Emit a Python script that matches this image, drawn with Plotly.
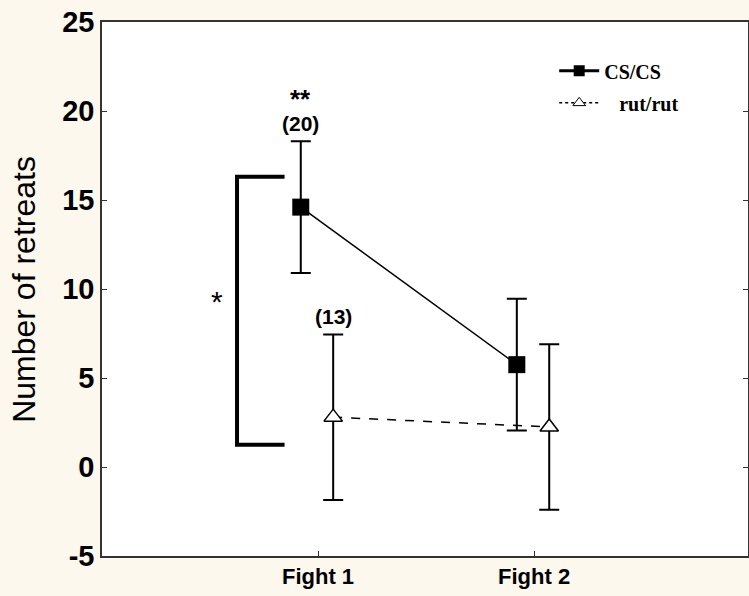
import plotly.graph_objects as go

# ---- data ----
categories = ["Fight 1", "Fight 2"]
cat_pos = [1, 2]
cs_mean = [14.6, 5.75]
cs_err = [3.7, 3.7]
rut_mean = [2.8, 2.25]
rut_err = [4.65, 4.65]
offset_cs = -0.08
offset_rut = 0.07
y_ticks = [-5, 0, 5, 10, 15, 20, 25]
y_ticktext = ["-5", "0", "5", "10", "15", "20", "25"]
n_labels = ["(20)", "(13)"]
bracket_y = [16.3, 1.25]

cs_x = [p + offset_cs for p in cat_pos]
rut_x = [p + offset_rut for p in cat_pos]

FONT = "Arial, Liberation Sans, sans-serif"
SERIF = "Times New Roman, Liberation Serif, serif"
BG = "#FCF8EE"

fig = go.Figure()

fig.add_trace(go.Scatter(
    x=rut_x, y=rut_mean, mode="lines+markers", showlegend=False,
    line=dict(color="black", width=1.5, dash="dash"),
    marker=dict(symbol="triangle-up", size=16, color="white",
                line=dict(color="black", width=1.5)),
    error_y=dict(type="data", array=rut_err, color="black", thickness=2, width=10),
))
fig.add_trace(go.Scatter(
    x=cs_x, y=cs_mean, mode="lines+markers", showlegend=False,
    line=dict(color="black", width=1.5),
    marker=dict(symbol="square", size=17, color="black"),
    error_y=dict(type="data", array=cs_err, color="black", thickness=2, width=10),
))
# legend entries
fig.add_trace(go.Scatter(
    x=[None], y=[None], mode="lines+markers", name="CS/CS", legendgroup="a",
    line=dict(color="black", width=3),
    marker=dict(symbol="square", size=11, color="black"),
))
fig.add_trace(go.Scatter(
    x=[None], y=[None], mode="lines+markers", name="\u00a0\u00a0\u00a0rut/rut", legendgroup="b",
    line=dict(color="black", width=1.5, dash="dot"),
    marker=dict(symbol="triangle-up", size=11, color="white",
                line=dict(color="black", width=1)),
))

# significance bracket
bx0, bx1 = 0.625, 0.845
fig.add_shape(type="path",
              path=f"M {bx1},{bracket_y[0]} L {bx0},{bracket_y[0]} L {bx0},{bracket_y[1]} L {bx1},{bracket_y[1]}",
              line=dict(color="black", width=4), xref="x", yref="y")
fig.add_annotation(x=0.53, y=9.3, text="*", showarrow=False,
                   font=dict(family=FONT, size=30, color="black"))

# N labels and stars
fig.add_annotation(x=cs_x[0], y=cs_mean[0] + cs_err[0], yshift=18, text=f"<b>{n_labels[0]}</b>",
                   showarrow=False, font=dict(family=FONT, size=21, color="black"))
fig.add_annotation(x=cs_x[0], y=cs_mean[0] + cs_err[0], yshift=42, text="<b>**</b>",
                   showarrow=False, font=dict(family=FONT, size=26, color="black"))
fig.add_annotation(x=rut_x[0], y=rut_mean[0] + rut_err[0], yshift=18, text=f"<b>{n_labels[1]}</b>",
                   showarrow=False, font=dict(family=FONT, size=21, color="black"))

# y-axis title
fig.add_annotation(xref="paper", yref="paper", x=-0.121, y=0.5, xanchor="center", yanchor="middle",
                   text="Number of retreats", textangle=-90, showarrow=False,
                   font=dict(family=FONT, size=32, color="black"))

fig.update_layout(
    width=749, height=596,
    margin=dict(l=102, r=1, t=22, b=40),
    paper_bgcolor=BG,
    plot_bgcolor="white",
    showlegend=True,
    legend=dict(x=0.70, y=0.945, xanchor="left", yanchor="top",
                bgcolor="rgba(0,0,0,0)", font=dict(family=SERIF, size=20, color="black", weight="bold"),
                tracegroupgap=3, itemwidth=40),
    xaxis=dict(range=[0, 2.99], tickmode="array", tickvals=cat_pos, ticktext=categories,
               ticks="inside", ticklen=5, tickcolor="#333", showline=True, linecolor="#333",
               linewidth=1.5, mirror=True, showgrid=False, zeroline=False, automargin=False,
               tickfont=dict(family=FONT, size=22, color="black", weight="bold")),
    yaxis=dict(range=[-5, 25], tickmode="array", tickvals=y_ticks, ticktext=y_ticktext,
               ticks="inside", ticklen=5, tickcolor="#333", showline=True, linecolor="#333",
               linewidth=1.5, mirror="ticks", showgrid=False, zeroline=False, automargin=False,
               tickfont=dict(family=FONT, size=29, color="black", weight="bold")),
)

fig.write_html("out.html", config={"displayModeBar": False},
               post_script=f"document.body.style.margin='0';document.body.style.background='{BG}';document.body.style.overflow='hidden';")
